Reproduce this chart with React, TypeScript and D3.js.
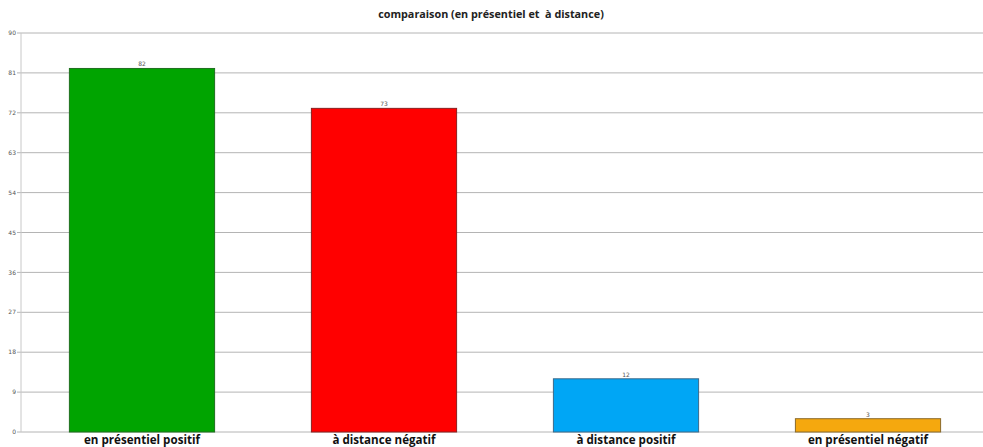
import React from "react";
import * as d3 from "d3";

const categories = [
  "en présentiel positif",
  "à distance négatif",
  "à distance positif",
  "en présentiel négatif",
];
const values = [82, 73, 12, 3];
const barColors = ["#00a400", "#ff0000", "#00a6f5", "#f5a80e"];
const barStrokes = ["#1f6f1f", "#8a2020", "#3a6a8a", "#8a6a2a"];
const yTicks = [0, 9, 18, 27, 36, 45, 54, 63, 72, 81, 90];
const title = "comparaison (en présentiel et  à distance)";

const W = 983;
const H = 447;
const margin = { top: 33, left: 21, bottom: 15 };

export default function App() {
  const x = d3
    .scaleBand<string>()
    .domain(categories)
    .range([margin.left, 989])
    .paddingInner(0.4)
    .paddingOuter(0.2);
  const y = d3.scaleLinear().domain([0, 90]).range([H - margin.bottom, margin.top]);

  return (
    <svg
      width={W}
      height={H}
      style={{ position: "absolute", left: 0, top: 0, background: "#fff" }}
      fontFamily="'Open Sans', sans-serif"
    >
      <text
        x={491}
        y={18}
        textAnchor="middle"
        fontSize={10.8}
        fontWeight={700}
        fill="#222"
        style={{ whiteSpace: "pre" }}
      >
        {title}
      </text>
      {yTicks.map((t) => (
        <g key={t}>
          <line x1={margin.left - 4} x2={W} y1={y(t)} y2={y(t)} stroke="#b4b4b4" strokeWidth={1} />
          <text
            x={margin.left - 5}
            y={y(t)}
            dy="0.35em"
            textAnchor="end"
            fontSize={6}
            fontFamily="'DejaVu Sans', sans-serif"
            fill="#555"
          >
            {t}
          </text>
        </g>
      ))}
      <line x1={margin.left} x2={margin.left} y1={y(90)} y2={y(0)} stroke="#c8c8c8" strokeWidth={1} />
      {categories.map((c, i) => (
        <g key={c}>
          <rect
            x={x(c)}
            y={y(values[i])}
            width={x.bandwidth()}
            height={y(0) - y(values[i])}
            fill={barColors[i]}
            stroke={barStrokes[i]}
            strokeWidth={1}
          />
          <text
            x={(x(c) as number) + x.bandwidth() / 2}
            y={y(values[i]) - 2}
            textAnchor="middle"
            fontSize={6}
            fontFamily="'DejaVu Sans', sans-serif"
            fill="#555"
          >
            {values[i]}
          </text>
          <text
            x={(x(c) as number) + x.bandwidth() / 2}
            y={444}
            textAnchor="middle"
            fontSize={11.6}
            fontWeight={700}
            fill="#111"
          >
            {c}
          </text>
        </g>
      ))}
    </svg>
  );
}
